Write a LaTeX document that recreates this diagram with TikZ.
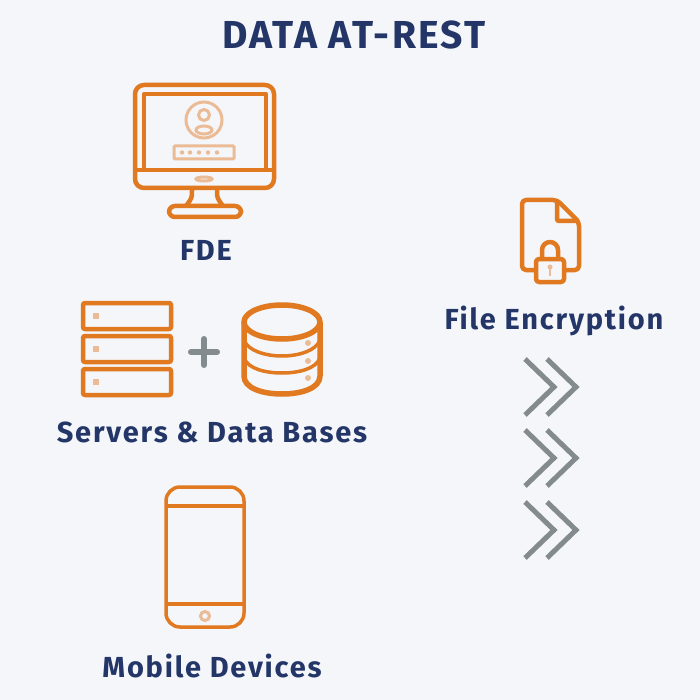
\documentclass[tikz,border=0pt]{standalone}
\usepackage{fontspec}
\setmainfont{Fira Sans}[BoldFont={Fira Sans Bold}]
\definecolor{pagebg}{HTML}{F4F6FA}
\definecolor{navy}{HTML}{233667}
\definecolor{iconorange}{HTML}{E0791F}
\definecolor{iconlight}{HTML}{EBBB95}
\definecolor{markgray}{HTML}{838B8E}
\begin{document}
\begin{tikzpicture}[x=1pt,y=-1pt]
	\tikzstyle{caption}=[text=navy,font=\bfseries\addfontfeature{LetterSpace=6.2}\fontsize{29}{32}\selectfont,inner sep=0pt]
	\tikzstyle{heading}=[caption,font=\bfseries\addfontfeature{LetterSpace=6}\fontsize{39}{42}\selectfont]
	\tikzstyle{icon}=[draw=iconorange,line width=4.5pt,line join=round]
	\tikzstyle{thin icon}=[icon,line width=3.5pt]
	\tikzstyle{soft}=[draw=iconlight,line width=3pt]
	\tikzstyle{dot}=[fill=iconlight]
	\tikzstyle{chevron}=[draw=markgray,line width=5pt]

	\useasboundingbox (0,0) rectangle (700,700);
	\fill[pagebg] (0,0) rectangle (700,700);

	\node[heading](title) at (354,35){DATA AT-REST};
	\node[caption](fde) at (206,250){FDE};
	\node[caption](servers) at (212,432){Servers \& Data Bases};
	\node[caption](mobile) at (212,666){Mobile Devices};
	\node[caption](files) at (554,321){File Encryption};

	% monitor
	\draw[icon,rounded corners=9pt] (135,85) rectangle (274,188);
	\draw[icon] (144,169) |- (266,94) -- (266,169);
	\draw[icon] (135,170) -- (274,170);
	\draw[icon] (192,190) .. controls (192,198) .. (186,206);
	\draw[icon] (217,190) .. controls (217,198) .. (223,206);
	\draw[icon,rounded corners=6pt] (169,206) rectangle (241,217);
	\draw[soft] (204,179) ellipse (8 and 2);
	\draw[soft] (204,120) circle (18);
	\draw[soft] (204,115) circle (5.5);
	\draw[soft] (204,130) ellipse (8 and 4);
	\draw[soft,rounded corners=1pt] (174,146) rectangle (234,159);
	\foreach \x in {182,190,199,208,217}
		\fill[dot] (\x,152.5) circle (2.2);

	% servers
	\foreach \y in {303,336,369}{
		\draw[icon,rounded corners=2pt] (83,\y) rectangle (171,\y+26);
		\fill[dot] (93,\y+10) rectangle (99,\y+16);
	}

	% plus
	\draw[draw=markgray,line width=6pt,line cap=round] (191,352) -- (217,352);
	\draw[draw=markgray,line width=6pt,line cap=round] (204,339) -- (204,365);

	% data base
	\draw[icon,line width=5.5pt] (282,322) ellipse (38 and 17);
	\draw[icon,line width=5.5pt] (244,322) -- (244,376) .. controls (244,388) and (262,394) .. (282,394)
		.. controls (302,394) and (320,388) .. (320,376) -- (320,322);
	\draw[thin icon] (244,340) .. controls (248,351) and (266,356) .. (282,356)
		.. controls (298,356) and (316,351) .. (320,340);
	\draw[thin icon] (244,358) .. controls (248,369) and (266,373) .. (282,373)
		.. controls (298,373) and (316,369) .. (320,358);
	\foreach \y in {343,361,378}
		\fill[dot] (308,\y) circle (3);

	% phone
	\draw[thin icon,rounded corners=14pt] (166,487) rectangle (244,627);
	\draw[thin icon] (166,506) -- (244,506);
	\draw[thin icon] (166,604) -- (244,604);
	\draw[soft] (205,616) circle (4.5);

	% file with lock
	\draw[icon,rounded corners=4pt] (534,270) -- (522,270) -- (522,200) -- (557,200) -- (579,222) -- (579,270) -- (566,270);
	\draw[icon,rounded corners=2pt] (557,200) -- (557,221) -- (579,221);
	\draw[icon] (542,259) -- (542,250) arc (180:360:8) -- (558,259);
	\draw[icon,rounded corners=3pt] (536,259) rectangle (564,282);
	\fill[dot] (550,267) circle (2.5);
	\draw[draw=iconlight,line width=2.5pt] (550,267) -- (550,276);

	% chevrons
	\foreach \y in {387,458,530}
		\foreach \x in {525,547}
			\draw[chevron] (\x,\y-28) -- (\x+29,\y) -- (\x,\y+28);
\end{tikzpicture}
\end{document}
